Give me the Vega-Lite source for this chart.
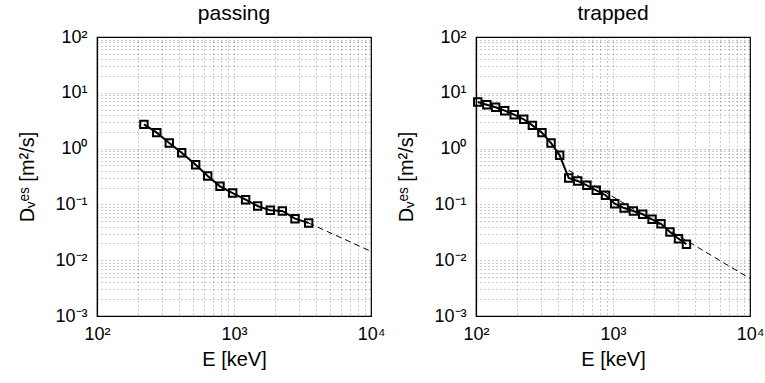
{
  "$schema": "https://vega.github.io/schema/vega-lite/v6.json",
  "background": "white",
  "padding": {"left": 17, "top": 2, "right": 0, "bottom": 0},
  "bounds": "flush",
  "spacing": 105,
  "config": {
    "font": "Liberation Sans",
    "view": {"stroke": "#000", "strokeWidth": 1.2},
    "axis": {
      "labelFont": "Liberation Sans",
      "titleFont": "Liberation Sans",
      "labelFontSize": 18,
      "titleFontSize": 20,
      "titleFontWeight": "normal",
      "labelColor": "#000",
      "titleColor": "#000",
      "domainColor": "#000",
      "domainWidth": 1.2,
      "grid": true,
      "gridColor": "#000",
      "gridOpacity": 0.4,
      "gridDash": [1, 3],
      "gridWidth": 1,
      "ticks": false,
      "labelOverlap": false,
      "labelBound": false,
      "labelFlush": false
    },
    "title": {"font": "Liberation Sans", "fontSize": 21, "fontWeight": "normal", "color": "#000"}
  },
  "datasets": {
    "all": [
      {"panel": "passing", "series": "data", "E": 220, "D": 2.72},
      {"panel": "passing", "series": "data", "E": 273, "D": 1.93},
      {"panel": "passing", "series": "data", "E": 337, "D": 1.26},
      {"panel": "passing", "series": "data", "E": 415, "D": 0.845},
      {"panel": "passing", "series": "data", "E": 525, "D": 0.515},
      {"panel": "passing", "series": "data", "E": 643, "D": 0.323},
      {"panel": "passing", "series": "data", "E": 790, "D": 0.211},
      {"panel": "passing", "series": "data", "E": 978, "D": 0.16},
      {"panel": "passing", "series": "data", "E": 1216, "D": 0.1215},
      {"panel": "passing", "series": "data", "E": 1488, "D": 0.0936},
      {"panel": "passing", "series": "data", "E": 1841, "D": 0.0783},
      {"panel": "passing", "series": "data", "E": 2253, "D": 0.0762},
      {"panel": "passing", "series": "data", "E": 2788, "D": 0.0555},
      {"panel": "passing", "series": "data", "E": 3508, "D": 0.0464},
      {"panel": "passing", "series": "fit", "E": 3508, "D": 0.0464},
      {"panel": "passing", "series": "fit", "E": 10000, "D": 0.0144},
      {"panel": "trapped", "series": "data", "E": 103, "D": 6.84},
      {"panel": "trapped", "series": "data", "E": 120, "D": 6.12},
      {"panel": "trapped", "series": "data", "E": 139, "D": 5.5},
      {"panel": "trapped", "series": "data", "E": 162, "D": 4.78},
      {"panel": "trapped", "series": "data", "E": 190, "D": 4.05},
      {"panel": "trapped", "series": "data", "E": 223, "D": 3.35},
      {"panel": "trapped", "series": "data", "E": 258, "D": 2.61},
      {"panel": "trapped", "series": "data", "E": 303, "D": 1.93},
      {"panel": "trapped", "series": "data", "E": 353, "D": 1.26},
      {"panel": "trapped", "series": "data", "E": 408, "D": 0.758},
      {"panel": "trapped", "series": "data", "E": 475, "D": 0.297},
      {"panel": "trapped", "series": "data", "E": 552, "D": 0.263},
      {"panel": "trapped", "series": "data", "E": 645, "D": 0.22},
      {"panel": "trapped", "series": "data", "E": 755, "D": 0.179},
      {"panel": "trapped", "series": "data", "E": 882, "D": 0.146},
      {"panel": "trapped", "series": "data", "E": 1030, "D": 0.103},
      {"panel": "trapped", "series": "data", "E": 1205, "D": 0.086},
      {"panel": "trapped", "series": "data", "E": 1409, "D": 0.0762},
      {"panel": "trapped", "series": "data", "E": 1648, "D": 0.0665},
      {"panel": "trapped", "series": "data", "E": 1928, "D": 0.054},
      {"panel": "trapped", "series": "data", "E": 2240, "D": 0.045},
      {"panel": "trapped", "series": "data", "E": 2606, "D": 0.032},
      {"panel": "trapped", "series": "data", "E": 3006, "D": 0.0243},
      {"panel": "trapped", "series": "data", "E": 3437, "D": 0.0193},
      {"panel": "trapped", "series": "fit", "E": 475, "D": 0.408},
      {"panel": "trapped", "series": "fit", "E": 10000, "D": 0.0047}
    ]
  },
  "hconcat": [
    {
      "title": {"text": "passing", "offset": 4},
      "width": 274,
      "height": 279,
      "data": {"name": "all"},
      "transform": [{"filter": "datum.panel === 'passing'"}],
      "encoding": {
        "x": {
          "field": "E", "type": "quantitative",
          "scale": {"type": "log", "domain": [100, 10000], "nice": false},
          "axis": {
            "title": "E [keV]",
            "labelPadding": 9, "titlePadding": 6,
            "values": [100, 200, 300, 400, 500, 600, 700, 800, 900, 1000, 2000, 3000, 4000, 5000, 6000, 7000, 8000, 9000, 10000],
            "labelExpr": "abs(log(datum.value)/LN10 - round(log(datum.value)/LN10)) > 0.001 ? '' : (round(log(datum.value)/LN10) == 2 ? '10²' : round(log(datum.value)/LN10) == 3 ? '10³' : '10⁴')"
          }
        },
        "y": {
          "field": "D", "type": "quantitative",
          "scale": {"type": "log", "domain": [0.001, 100], "nice": false},
          "axis": {
            "title": "Dᵥᵉˢ [m²/s]",
            "labelPadding": 10, "titlePadding": 17,
            "values": [0.001, 0.002, 0.003, 0.004, 0.005, 0.006, 0.007, 0.008, 0.009, 0.01, 0.02, 0.03, 0.04, 0.05, 0.06, 0.07, 0.08, 0.09, 0.1, 0.2, 0.3, 0.4, 0.5, 0.6, 0.7, 0.8, 0.9, 1, 2, 3, 4, 5, 6, 7, 8, 9, 10, 20, 30, 40, 50, 60, 70, 80, 90, 100],
            "labelExpr": "abs(log(datum.value)/LN10 - round(log(datum.value)/LN10)) > 0.001 ? '' : (round(log(datum.value)/LN10) == 2 ? '10²' : round(log(datum.value)/LN10) == 1 ? '10¹' : round(log(datum.value)/LN10) == 0 ? '10⁰' : round(log(datum.value)/LN10) == -1 ? '10⁻¹' : round(log(datum.value)/LN10) == -2 ? '10⁻²' : '10⁻³')"
          }
        }
      },
      "layer": [
        {"transform": [{"filter": "datum.series === 'fit'"}], "mark": {"type": "line", "color": "#000", "strokeWidth": 1, "strokeDash": [6, 4]}},
        {"transform": [{"filter": "datum.series === 'data'"}], "mark": {"type": "line", "color": "#000", "strokeWidth": 2}},
        {"transform": [{"filter": "datum.series === 'data'"}], "mark": {"type": "point", "shape": "square", "filled": false, "color": "#000", "strokeWidth": 2, "size": 55, "opacity": 1}}
      ]
    },
    {
      "title": {"text": "trapped", "offset": 4},
      "width": 274,
      "height": 279,
      "data": {"name": "all"},
      "transform": [{"filter": "datum.panel === 'trapped'"}],
      "encoding": {
        "x": {
          "field": "E", "type": "quantitative",
          "scale": {"type": "log", "domain": [100, 10000], "nice": false},
          "axis": {
            "title": "E [keV]",
            "labelPadding": 9, "titlePadding": 6,
            "values": [100, 200, 300, 400, 500, 600, 700, 800, 900, 1000, 2000, 3000, 4000, 5000, 6000, 7000, 8000, 9000, 10000],
            "labelExpr": "abs(log(datum.value)/LN10 - round(log(datum.value)/LN10)) > 0.001 ? '' : (round(log(datum.value)/LN10) == 2 ? '10²' : round(log(datum.value)/LN10) == 3 ? '10³' : '10⁴')"
          }
        },
        "y": {
          "field": "D", "type": "quantitative",
          "scale": {"type": "log", "domain": [0.001, 100], "nice": false},
          "axis": {
            "title": "Dᵥᵉˢ [m²/s]",
            "labelPadding": 10, "titlePadding": 17,
            "values": [0.001, 0.002, 0.003, 0.004, 0.005, 0.006, 0.007, 0.008, 0.009, 0.01, 0.02, 0.03, 0.04, 0.05, 0.06, 0.07, 0.08, 0.09, 0.1, 0.2, 0.3, 0.4, 0.5, 0.6, 0.7, 0.8, 0.9, 1, 2, 3, 4, 5, 6, 7, 8, 9, 10, 20, 30, 40, 50, 60, 70, 80, 90, 100],
            "labelExpr": "abs(log(datum.value)/LN10 - round(log(datum.value)/LN10)) > 0.001 ? '' : (round(log(datum.value)/LN10) == 2 ? '10²' : round(log(datum.value)/LN10) == 1 ? '10¹' : round(log(datum.value)/LN10) == 0 ? '10⁰' : round(log(datum.value)/LN10) == -1 ? '10⁻¹' : round(log(datum.value)/LN10) == -2 ? '10⁻²' : '10⁻³')"
          }
        }
      },
      "layer": [
        {"transform": [{"filter": "datum.series === 'fit'"}], "mark": {"type": "line", "color": "#000", "strokeWidth": 1, "strokeDash": [6, 4]}},
        {"transform": [{"filter": "datum.series === 'data'"}], "mark": {"type": "line", "color": "#000", "strokeWidth": 2}},
        {"transform": [{"filter": "datum.series === 'data'"}], "mark": {"type": "point", "shape": "square", "filled": false, "color": "#000", "strokeWidth": 2, "size": 55, "opacity": 1}}
      ]
    }
  ]
}
